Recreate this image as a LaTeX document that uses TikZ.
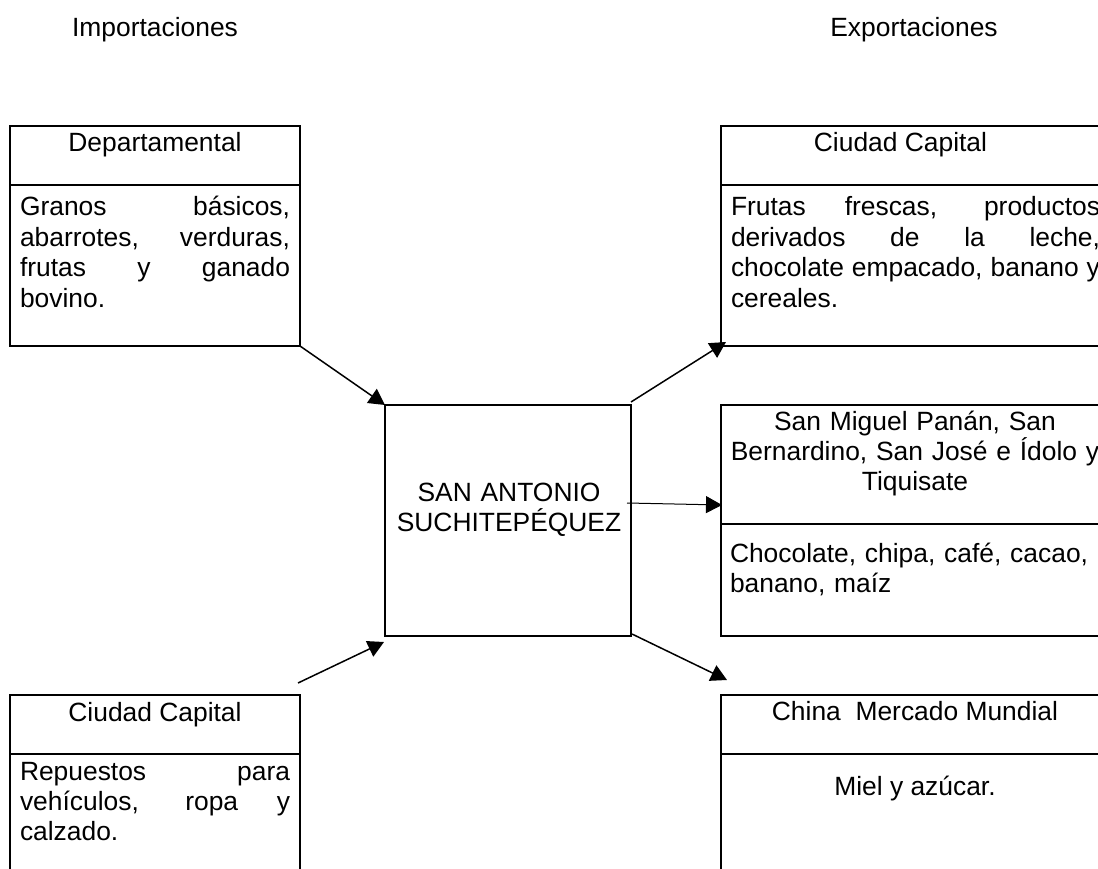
\documentclass[tikz,border=0pt]{standalone}
\usepackage{fontspec}
\setmainfont{Liberation Sans}
\usetikzlibrary{arrows.meta}
\tikzset{
  x=1pt,y=-1pt,
  boxpart/.style={draw=black,line width=1.5pt,anchor=north west,inner sep=0pt,outer sep=0pt,minimum width=#1},
  headleft/.style={boxpart=290pt,minimum height=59pt},
  bodyleft/.style={boxpart=290pt},
  headright/.style={boxpart=389pt,minimum height=59pt},
  bodyright/.style={boxpart=389pt},
  label/.style={anchor=base,inner sep=0pt,outer sep=0pt,font=\mainfs,text=black},
  parleft/.style={anchor=base west,inner sep=0pt,outer sep=0pt,font=\mainfs,text width=270pt,align=justify},
  parright/.style={anchor=base west,inner sep=0pt,outer sep=0pt,font=\mainfs,text width=369pt,align=justify},
  centred/.style={anchor=base,inner sep=0pt,outer sep=0pt,font=\mainfs,text width=380pt,align=center},
  conn/.style={draw=black,line width=1.5pt,-{Triangle[length=16pt,width=17pt]}},
}
\newcommand{\mainfs}{\fontsize{26.4}{30.4}\selectfont\tolerance=10000 \hbadness=10000 \hyphenpenalty=10000 }
\begin{document}
\begin{tikzpicture}
\useasboundingbox (0,0) rectangle (1098,869);
% column titles
\node[label] (imp) at (155,37) {Importaciones};
\node[label] (exp) at (914,37) {Exportaciones};
% left top box
\node[headleft,minimum height=59pt] (dh) at (10,126) {};
\node[bodyleft,minimum height=161pt] (db) at (10,185) {};
\node[label] (dt) at (155,152) {Departamental};
\node[parleft] (dp) at (20,216) {Granos básicos,\linebreak abarrotes, verduras,\linebreak frutas y ganado\linebreak bovino.};
% left bottom box
\node[headleft] (ch) at (10,695) {};
\node[bodyleft,minimum height=160pt] (cb) at (10,754) {};
\node[label] (ct) at (155,721) {Ciudad Capital};
\node[parleft] (cp) at (20,780) {Repuestos para\linebreak vehículos, ropa y\linebreak calzado.};
% centre
\node[draw=black,line width=1.5pt,anchor=north west,inner sep=0pt,outer sep=0pt,minimum width=246pt,minimum height=231pt] (sa) at (385,405) {};
\node[centred] (sat) at (509,501) {SAN ANTONIO\\SUCHITEPÉQUEZ};
% right top
\node[headright] (rh) at (721,126) {};
\node[bodyright,minimum height=161pt] (rb) at (721,185) {};
\node[label] (rt) at (900.5,152) {Ciudad Capital};
\node[parright] (rp) at (731,216) {Frutas frescas, productos\linebreak derivados de la leche,\linebreak chocolate empacado, banano y\linebreak cereales.};
% right middle
\node[headright,minimum height=119pt] (mh) at (721,405) {};
\node[bodyright,minimum height=112pt] (mb) at (721,524) {};
\node[centred] (mt) at (915,430) {San Miguel Panán, San\\Bernardino, San José e Ídolo y\\Tiquisate};
\node[parright,align=left] (mp) at (730,562) {Chocolate, chipa, café, cacao,\\banano, maíz};
% right bottom
\node[headright] (bh) at (721,695) {};
\node[bodyright,minimum height=160pt] (bb) at (721,754) {};
\node[label] (bt) at (915,720) {China\ \ Mercado Mundial};
\node[label] (bp) at (915,795) {Miel y azúcar.};
% connectors
\coordinate (a1) at (385,405);
\coordinate (a2) at (384,642);
\coordinate (s2) at (298,683);
\coordinate (s3) at (631,402);
\coordinate (e3) at (726,342);
\coordinate (s4) at (627,503);
\coordinate (e4) at (722,505);
\coordinate (s5) at (632,634);
\coordinate (e5) at (727,680);
\draw[conn] (db.south east) -- (a1);
\draw[conn] (s2) -- (a2);
\draw[conn] (s3) -- (e3);
\draw[conn,line width=1pt] (s4) -- (e4);
\draw[conn] (s5) -- (e5);
\end{tikzpicture}
\end{document}
